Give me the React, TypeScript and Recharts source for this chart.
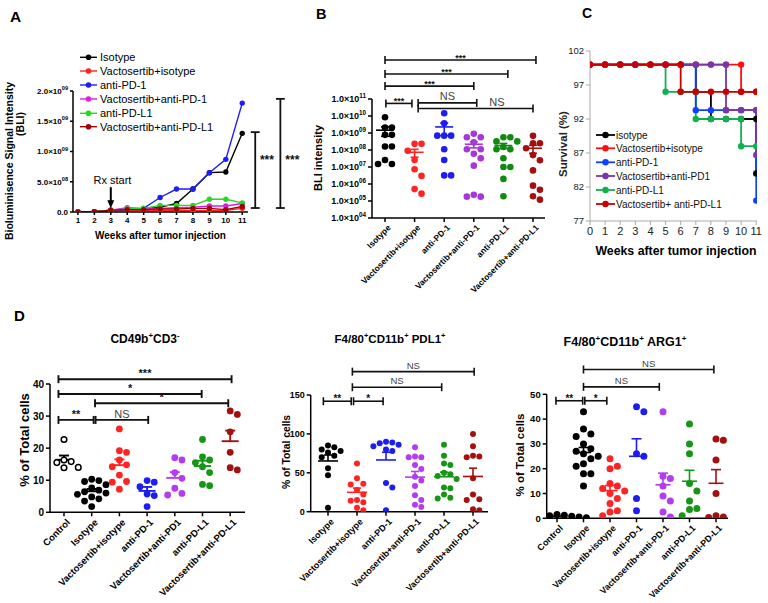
import React from 'react';
import {
  LineChart, Line, ScatterChart, Scatter, XAxis, YAxis, ReferenceLine, ReferenceDot,
} from 'recharts';

const FONT = "Arial, 'Liberation Sans', Helvetica, sans-serif";

// ---------- A: bioluminescence over time ----------
const weeks = [1, 2, 3, 4, 5, 6, 7, 8, 9, 10, 11];
const bliIsotype = [0, 0.005e9, 0.03e9, 0.05e9, 0.05e9, 0.08e9, 0.14e9, 0.38e9, 0.65e9, 0.66e9, 1.3e9];
const bliVactIso = [0, 0.005e9, 0.02e9, 0.03e9, 0.03e9, 0.02e9, 0.02e9, 0.02e9, 0.02e9, 0.03e9, 0.06e9];
const bliPd1 = [0, 0.005e9, 0.02e9, 0.04e9, 0.06e9, 0.24e9, 0.38e9, 0.38e9, 0.65e9, 0.87e9, 1.8e9];
const bliVactPd1 = [0, 0.005e9, 0.03e9, 0.07e9, 0.06e9, 0.06e9, 0.07e9, 0.08e9, 0.1e9, 0.1e9, 0.14e9];
const bliPdl1 = [0, 0.005e9, 0.03e9, 0.05e9, 0.06e9, 0.11e9, 0.11e9, 0.11e9, 0.21e9, 0.21e9, 0.15e9];
const bliVactPdl1 = [0, 0.005e9, 0.03e9, 0.04e9, 0.04e9, 0.05e9, 0.05e9, 0.06e9, 0.06e9, 0.04e9, 0.09e9];
const aNames = ['Isotype', 'Vactosertib+isotype', 'anti-PD-1', 'Vactosertib+anti-PD-1', 'anti-PD-L1', 'Vactosertib+anti-PD-L1'];
const aColors = ['#000000', '#ff2020', '#1c1cff', '#e01ee0', '#1fdc1f', '#a00000'];
const aTicks = [0, 0.5e9, 1e9, 1.5e9, 2e9];

// ---------- B: BLI intensity per group ----------
const bCats = ['Isotype', 'Vactosertib+isotype', 'anti-PD-1', 'Vactosertib+anti-PD-1', 'anti-PD-L1', 'Vactosertib+anti-PD-L1'];
const bIsotype = [8.5e9, 2.1e9, 2.1e9, 7.8e8, 7.8e8, 1.6e8, 1.6e8, 2.6e7, 1.5e7, 1.5e7];
const bVactIso = [2.3e8, 2.3e8, 9e7, 2.6e7, 7.4e6, 3e6, 5e5, 2.7e5];
const bPd1 = [1.45e10, 3.7e9, 7e8, 7e8, 7e8, 1.1e8, 2.6e7, 3.2e6, 3.2e6];
const bVactPd1 = [9e8, 5.6e8, 5.6e8, 2.8e8, 1.1e8, 1.1e8, 6e7, 3.3e7, 1.2e7, 2.3e5, 1.8e5, 1.8e5];
const bPdl1 = [5.6e8, 5.6e8, 3.2e8, 3.2e8, 1.5e8, 1.1e8, 1.1e8, 3.3e7, 1e7, 1e7, 2e6, 1.9e5];
const bVactPdl1 = [6.8e8, 2.5e8, 2.5e8, 1.26e8, 5e7, 2.5e7, 6.3e6, 8e5, 4.6e5, 1.9e5, 1.2e5];
const bTicks = [1e4, 1e5, 1e6, 1e7, 1e8, 1e9, 1e10, 1e11];
const bSigs = [
  { from: 0, to: 5.1, y: 1.95e13, label: '***' },
  { from: 0, to: 4.15, y: 2.95e12, label: '***' },
  { from: 0, to: 3.0, y: 5.75e11, label: '***' },
  { from: 0.03, to: 0.91, y: 5.5e10, label: '***' },
  { from: 1.12, to: 3.1, y: 5.9e10, label: 'NS' },
  { from: 1.12, to: 5.0, y: 2.75e10, label: 'NS', labelX: 3.78 },
];

// ---------- C: survival ----------
const survIsotype: [number, number][] = [[0, 100], [1, 100], [2, 100], [3, 100], [4, 100], [5, 100], [6, 100], [7, 96], [8, 92], [9, 92], [10, 92], [11, 92], [11, 84]];
const survVactIso: [number, number][] = [[0, 100], [1, 100], [2, 100], [3, 100], [4, 100], [5, 100], [6, 100], [7, 100], [8, 100], [9, 100], [10, 100], [10, 96], [11, 96]];
const survPd1: [number, number][] = [[0, 100], [1, 100], [2, 100], [3, 100], [4, 100], [5, 100], [6, 100], [7, 100], [7, 93.3], [8, 93.3], [9, 93.3], [10, 93.3], [11, 93.3], [11, 80]];
const survVactPd1: [number, number][] = [[0, 100], [1, 100], [2, 100], [3, 100], [4, 100], [5, 100], [6, 100], [7, 100], [8, 100], [9, 100], [9, 93.3], [10, 93.3], [11, 93.3], [11, 86.7]];
const survPdl1: [number, number][] = [[0, 100], [1, 100], [2, 100], [3, 100], [4, 100], [5, 96], [6, 96], [7, 96], [7, 92], [8, 92], [9, 92], [10, 92], [10, 88], [11, 88]];
const survVactPdl1: [number, number][] = [[0, 100], [1, 100], [2, 100], [3, 100], [4, 100], [5, 100], [6, 100], [6, 96], [7, 96], [8, 96], [9, 96], [10, 96], [11, 96]];
const cNames = ['isotype', 'Vactosertib+isotype', 'anti-PD-1', 'Vactosertib+anti-PD1', 'anti-PD-L1', 'Vactosertib+ anti-PD-L1'];
const cColors = ['#000000', '#ff1010', '#1040ff', '#7a35a8', '#12b050', '#c80000'];
const cSeries = [survIsotype, survVactIso, survPd1, survVactPd1, survPdl1, survVactPdl1];
const cDrawOrder = [0, 4, 2, 1, 3, 5];
const cWeeks = [0, 1, 2, 3, 4, 5, 6, 7, 8, 9, 10, 11];
const cTicks = [77, 82, 87, 92, 97, 102];

// ---------- D: flow cytometry ----------
const cdCats = ['Control', 'Isotype', 'Vactosertib+isotype', 'anti-PD-1', 'Vactosertib+anti-PD1', 'anti-PD-L1', 'Vactosertib+anti-PD-L1'];
const cdControl = [22.7, 16.3, 15.5, 14.0, 13.9, 15.8];
const cdIsotype = [10.3, 9.9, 9.6, 8.6, 7.6, 6.9, 6.4, 6.0, 5.6, 4.8, 4.2, 3.5, 1.8];
const cdVactIso = [26, 19.2, 18.7, 16.3, 14.8, 14.2, 11.6, 9.6, 9.4, 7.2];
const cdPd1 = [9.9, 9.4, 8.0, 5.7, 5.2, 1.8];
const cdVactPd1 = [17, 16.3, 12.4, 10.6, 7.5, 5.9, 5.4];
const cdPdl1 = [22.7, 17.3, 16.3, 15.5, 14.2, 12.4, 8.7, 8.3];
const cdVactPdl1 = [31.6, 30.5, 25.1, 18.7, 13.2, 13.9];
const cdSigs = [
  { from: -0.2, to: 6.05, y: 41.5, label: '***' },
  { from: -0.2, to: 4.97, y: 36.9, label: '*' },
  { from: 1.12, to: 5.93, y: 34.0, label: '*' },
  { from: -0.2, to: 1.07, y: 28.8, label: '**' },
  { from: 1.14, to: 3.04, y: 28.8, label: 'NS' },
];

const pdCats = ['Isotype', 'Vactosertib+isotype', 'anti-PD-1', 'Vactosertib+anti-PD-1', 'anti-PD-L1', 'Vactosertib+anti-PD-L1'];
const pdIsotype = [85, 83, 80, 78, 76, 72, 70, 56, 47, 5];
const pdVactIso = [62, 43, 36, 35, 28, 22, 15, 14, 12, 5, 2];
const pdPd1 = [90, 89, 88, 86, 84, 80, 78, 37, 31, 2];
const pdVactPd1 = [83, 71, 70, 70, 60, 55, 45, 40, 33, 21, 15, 9, 6];
const pdPdl1 = [86, 72, 62, 60, 50, 48, 46, 42, 31, 30, 22, 17, 18];
const pdVactPdl1 = [100, 84, 72, 71, 70, 43, 22, 16, 15, 2, 3];
const pdSigs = [
  { from: 0.84, to: 5.04, y: 180, label: 'NS' },
  { from: 0.84, to: 3.92, y: 160, label: 'NS' },
  { from: -0.16, to: 0.8, y: 142, label: '**' },
  { from: 0.88, to: 1.9, y: 142, label: '*' },
];

const argCats = ['Control', 'Isotype', 'Vactosertib+isotype', 'anti-PD-1', 'Vactosertib+anti-PD-1', 'anti-PD-L1', 'Vactosertib+anti-PD-L1'];
const argControl = [0.2, 0.5, 1.0, 1.5, 0.3, 0.8, 0, 0.6, 1.2];
const argIsotype = [43, 36, 34, 33, 30, 28, 27, 26, 25, 24, 22, 21, 18, 18, 13];
const argVactIso = [24, 21, 20, 14, 13, 12, 11, 10, 8, 6, 3, 2.5, 1];
const argPd1 = [45, 43, 26, 25, 8, 3];
const argVactPd1 = [43, 17, 16, 13, 9, 7, 2.5, 0.5];
const argPdl1 = [38, 30, 26, 14, 11, 7, 4, 3.5, 1];
const argVactPdl1 = [32, 31.5, 23.5, 10, 1, 0.5, 0.3];
const argSigs = [
  { from: 1.0, to: 5.92, y: 60, label: 'NS' },
  { from: 1.0, to: 3.86, y: 53, label: 'NS' },
  { from: -0.04, to: 0.97, y: 47.4, label: '**' },
  { from: 1.05, to: 1.88, y: 47.4, label: '*' },
];

const K = '#000000';
const R = '#ff2424';
const BL = '#1d1df0';
const PU = '#b43cf0';
const GR = '#169616';
const DR = '#a31010';

interface Sig { from: number; to: number; y: number; label: string; labelX?: number }

function sciParts(v: number): [string, string] | null {
  if (v === 0) return null;
  const e = Math.floor(Math.log10(v) + 1e-9);
  const m = v / Math.pow(10, e);
  return [`${m.toFixed(1)}×10`, String(e).padStart(2, '0')];
}

const makeSciTick = (fs: number) => (props: any) => {
  const { x, y, payload } = props;
  const p = sciParts(payload.value);
  return (
    <text x={x} y={y} dy={fs * 0.35} textAnchor="end" fontSize={fs} fontWeight="bold" fontFamily={FONT} fill="#000">
      {p ? (
        <>
          <tspan>{p[0]}</tspan>
          <tspan dy={-fs * 0.45} fontSize={fs * 0.7}>{p[1]}</tspan>
        </>
      ) : '0.0'}
    </text>
  );
};

const makeCatTick = (labels: string[], fs: number) => (props: any) => {
  const { x, y, payload } = props;
  const tx = x + 3;
  const ty = y + 1;
  return (
    <text x={tx} y={ty} dy={fs * 0.55} textAnchor="end" transform={`rotate(-45 ${tx} ${ty})`}
      fontSize={fs} fontWeight="bold" fontFamily={FONT} fill="#000">
      {labels[payload.value]}
    </text>
  );
};

const mean = (a: number[]) => a.reduce((s, v) => s + v, 0) / a.length;
const sem = (a: number[]) => {
  const m = mean(a);
  return Math.sqrt(a.reduce((s, v) => s + (v - m) * (v - m), 0) / (a.length - 1) / a.length);
};

// simple beeswarm: spreads dots sideways when they would overlap
function swarm(vals: number[], thresh: number, step: number): number[] {
  const idx = vals.map((_, i) => i).sort((a, b) => vals[b] - vals[a]);
  const placed: { y: number; o: number }[] = [];
  const out = vals.map(() => 0);
  idx.forEach((i) => {
    const y = vals[i];
    for (let k = 0; k < 30; k++) {
      const o = (k % 2 === 1 ? 1 : -1) * Math.ceil(k / 2) * step;
      const clash = placed.some((p) => Math.abs(p.y - y) < thresh && Math.abs(p.o - o) < step * 0.999);
      if (!clash) {
        out[i] = o;
        placed.push({ y, o });
        break;
      }
    }
  });
  return out;
}

interface DotPanelProps {
  box: { left: number; top: number; width: number; height: number };
  plot: { left: number; right: number; top: number; bottom: number; first: number; step: number };
  cats: string[];
  groups: number[][];
  colors: string[];
  hollowFirst?: boolean;
  yDomain: [number, number];
  yTicks: number[];
  log?: boolean;
  yTickFs: number;
  catFs: number;
  r: number;
  meanHalf: number;
  capHalf: number;
  bothErr?: boolean;
  sigs: Sig[];
  starFs: number;
  nsFs: number;
  starDy: number;
  nsDy: number;
  lw: number;
}

function DotPanel(p: DotPanelProps) {
  const { box, plot } = p;
  const xDomain: [number, number] = [(plot.left - plot.first) / plot.step, (plot.right - plot.first) / plot.step];
  const tr = (v: number) => (p.log ? Math.log10(v) : v);
  const inv = (t: number) => (p.log ? Math.pow(10, t) : t);
  const upp = (tr(p.yDomain[1]) - tr(p.yDomain[0])) / (plot.bottom - plot.top);
  const yShift = (v: number, px: number) => inv(tr(v) + px * upp);
  const dx = (px: number) => px / plot.step;
  const step = dx(p.r * 2.1);
  const thresh = p.r * 2.2 * upp;

  const els: React.ReactNode[] = [];
  p.groups.forEach((g, i) => {
    const m = mean(g);
    const s = sem(g);
    const c = p.colors[i];
    els.push(<ReferenceLine key={`m${i}`} ifOverflow="visible" stroke={c} strokeWidth={p.lw}
      segment={[{ x: i - dx(p.meanHalf), y: m }, { x: i + dx(p.meanHalf), y: m }]} />);
    els.push(<ReferenceLine key={`e${i}`} ifOverflow="visible" stroke={c} strokeWidth={p.lw}
      segment={[{ x: i, y: m }, { x: i, y: m + s }]} />);
    els.push(<ReferenceLine key={`c${i}`} ifOverflow="visible" stroke={c} strokeWidth={p.lw}
      segment={[{ x: i - dx(p.capHalf), y: m + s }, { x: i + dx(p.capHalf), y: m + s }]} />);
    if (p.bothErr && m - s > 0) {
      els.push(<ReferenceLine key={`el${i}`} ifOverflow="visible" stroke={c} strokeWidth={p.lw}
        segment={[{ x: i, y: m }, { x: i, y: m - s }]} />);
      els.push(<ReferenceLine key={`cl${i}`} ifOverflow="visible" stroke={c} strokeWidth={p.lw}
        segment={[{ x: i - dx(p.capHalf), y: m - s }, { x: i + dx(p.capHalf), y: m - s }]} />);
    }
  });
  p.sigs.forEach((sg, j) => {
    els.push(<ReferenceLine key={`b${j}`} ifOverflow="visible" stroke="#111" strokeWidth={p.lw}
      segment={[{ x: sg.from, y: sg.y }, { x: sg.to, y: sg.y }]} />);
    [sg.from, sg.to].forEach((x, k) => {
      els.push(<ReferenceLine key={`bt${j}-${k}`} ifOverflow="visible" stroke="#111" strokeWidth={p.lw}
        segment={[{ x, y: yShift(sg.y, -4) }, { x, y: yShift(sg.y, 4) }]} />);
    });
    const isNs = sg.label === 'NS';
    els.push(
      <ReferenceDot key={`bl${j}`} ifOverflow="visible" x={sg.labelX ?? (sg.from + sg.to) / 2} y={sg.y} r={0}
        shape={(sp: any) => (
          <text x={sp.cx} y={sp.cy - (isNs ? p.nsDy : p.starDy)} textAnchor="middle"
            fontSize={isNs ? p.nsFs : p.starFs} fontWeight={isNs ? 'normal' : 'bold'}
            fill={isNs ? '#444' : '#111'} fontFamily={FONT}>{sg.label}</text>
        )} />,
    );
  });

  return (
    <div style={{ position: 'absolute', left: box.left, top: box.top, width: box.width, height: box.height }}>
      <ScatterChart width={box.width} height={box.height}
        margin={{ top: plot.top - box.top, right: box.left + box.width - plot.right, bottom: 0, left: 0 }}>
        <XAxis type="number" dataKey="x" domain={xDomain} allowDataOverflow ticks={p.cats.map((_, i) => i)}
          interval={0} tick={makeCatTick(p.cats, p.catFs)} height={box.top + box.height - plot.bottom}
          stroke="#000" strokeWidth={1.5} tickSize={4} tickLine={{ stroke: '#000' }} />
        <YAxis type="number" dataKey="y" domain={p.yDomain} scale={p.log ? 'log' : 'auto'} allowDataOverflow
          ticks={p.yTicks} interval={0} width={plot.left - box.left}
          tick={p.log ? makeSciTick(p.yTickFs) : { fontSize: p.yTickFs, fontWeight: 'bold', fill: '#000', fontFamily: FONT }}
          stroke="#000" strokeWidth={1.5} tickSize={4} tickLine={{ stroke: '#000' }} />
        {p.groups.map((g, i) => {
          const offs = swarm(g.map(tr), thresh, step);
          const data = g.map((v, k) => ({ x: i + offs[k], y: v }));
          const hollow = p.hollowFirst && i === 0;
          return (
            <Scatter key={i} data={data} isAnimationActive={false}
              shape={(sp: any) => (
                <circle cx={sp.cx} cy={sp.cy} r={hollow ? p.r - 0.6 : p.r}
                  fill={hollow ? '#fff' : p.colors[i]} stroke={p.colors[i]} strokeWidth={hollow ? 1.5 : 0} />
              )} />
          );
        })}
        {els}
      </ScatterChart>
    </div>
  );
}

function PanelA() {
  const rows = weeks.map((w, i) => ({
    week: w, s0: bliIsotype[i], s1: bliVactIso[i], s2: bliPd1[i], s3: bliVactPd1[i], s4: bliPdl1[i], s5: bliVactPdl1[i],
  }));
  const sideSigs = [
    { x: 11.79, lo: 0.066e9, hi: 1.32e9, lx: 12.5 },
    { x: 13.32, lo: 0.066e9, hi: 1.87e9, lx: 14.05 },
  ];
  return (
    <div style={{ position: 'absolute', left: 0, top: 0, width: 310, height: 260 }}>
      <LineChart width={310} height={260} data={rows} margin={{ top: 91, right: 62, bottom: 0, left: 0 }}>
        <XAxis type="number" dataKey="week" domain={[0.7, 11.35]} allowDataOverflow ticks={weeks} interval={0}
          height={48} stroke="#000" strokeWidth={1.5} tickSize={3} tickLine={{ stroke: '#000' }}
          tick={{ fontSize: 8, fontWeight: 'bold', fill: '#000', fontFamily: FONT }} />
        <YAxis type="number" domain={[0, 2e9]} ticks={aTicks} interval={0} width={73} allowDataOverflow
          stroke="#000" strokeWidth={1.5} tickSize={3} tickLine={{ stroke: '#000' }} tick={makeSciTick(8)} />
        {aNames.map((n, i) => (
          <Line key={n} dataKey={`s${i}`} name={n} type="linear" stroke={aColors[i]} strokeWidth={1.4}
            dot={{ r: 2.7, fill: aColors[i], stroke: aColors[i], strokeWidth: 0 }} isAnimationActive={false} />
        ))}
        <ReferenceLine ifOverflow="visible" stroke="#000" strokeWidth={2}
          segment={[{ x: 3, y: 0.41e9 }, { x: 3, y: 0.13e9 }]} />
        <ReferenceDot ifOverflow="visible" x={3} y={0.06e9} r={0}
          shape={(sp: any) => <polygon points={`${sp.cx - 3.5},${sp.cy - 8} ${sp.cx + 3.5},${sp.cy - 8} ${sp.cx},${sp.cy}`} fill="#000" />} />
        <ReferenceDot ifOverflow="visible" x={3.1} y={0.46e9} r={0}
          shape={(sp: any) => <text x={sp.cx} y={sp.cy} textAnchor="middle" fontSize={11} fontFamily={FONT} fill="#000">Rx start</text>} />
        {sideSigs.map((s, i) => (
          <React.Fragment key={i}>
            <ReferenceLine ifOverflow="visible" stroke="#111" strokeWidth={1.8} segment={[{ x: s.x, y: s.lo }, { x: s.x, y: s.hi }]} />
            <ReferenceLine ifOverflow="visible" stroke="#111" strokeWidth={1.8} segment={[{ x: s.x - 0.27, y: s.lo }, { x: s.x + 0.27, y: s.lo }]} />
            <ReferenceLine ifOverflow="visible" stroke="#111" strokeWidth={1.8} segment={[{ x: s.x - 0.27, y: s.hi }, { x: s.x + 0.27, y: s.hi }]} />
            <ReferenceDot ifOverflow="visible" x={s.lx} y={0.8e9} r={0}
              shape={(sp: any) => <text x={sp.cx} y={sp.cy} textAnchor="middle" fontSize={12} fontWeight="bold" fontFamily={FONT} fill="#111">***</text>} />
          </React.Fragment>
        ))}
      </LineChart>
    </div>
  );
}

function PanelC() {
  return (
    <div style={{ position: 'absolute', left: 520, top: 0, width: 248, height: 265 }}>
      <LineChart width={248} height={265} margin={{ top: 51, right: 11, bottom: 0, left: 0 }}>
        <XAxis type="number" dataKey="w" domain={[0, 11.05]} allowDataOverflow ticks={cWeeks} interval={0}
          height={44} stroke="#aaa" tickSize={4} tickLine={{ stroke: '#aaa' }}
          tick={{ fontSize: 11, fill: '#222', fontFamily: FONT }} />
        <YAxis type="number" domain={[77, 102]} ticks={cTicks} interval={0} width={70} allowDataOverflow
          stroke="#aaa" tickSize={4} tickLine={{ stroke: '#aaa' }}
          tick={{ fontSize: 9.5, fill: '#222', fontFamily: FONT }} />
        {cDrawOrder.map((i) => (
          <Line key={cNames[i]} data={cSeries[i].map(([w, s]) => ({ w, s }))} dataKey="s" name={cNames[i]}
            type="stepAfter" stroke={cColors[i]} strokeWidth={1.8}
            dot={{ r: 3.2, fill: cColors[i], stroke: cColors[i], strokeWidth: 0 }} isAnimationActive={false} />
        ))}
      </LineChart>
    </div>
  );
}

function Overlay() {
  const aLegY = [57.3, 71, 85, 99, 113.3, 126.7];
  const cLegY = [135, 148.3, 162.3, 176, 190, 204];
  const sup = (s: string, fs: number) => <tspan dy={-fs * 0.4} fontSize={fs * 0.65}>{s}</tspan>;
  const base = (s: string, fs: number) => <tspan dy={fs * 0.4}>{s}</tspan>;
  return (
    <svg width={768} height={603} style={{ position: 'absolute', left: 0, top: 0, pointerEvents: 'none' }} fontFamily={FONT}>
      <text x={10} y={21.7} fontSize={15.5} fontWeight="bold">A</text>
      <text x={316} y={18.5} fontSize={14.5} fontWeight="bold">B</text>
      <text x={582} y={17.5} fontSize={14} fontWeight="bold">C</text>
      <text x={14} y={320.7} fontSize={15} fontWeight="bold">D</text>

      {/* A labels and legend */}
      <text transform="translate(9.5,161) rotate(-90)" textAnchor="middle" dy="0.35em" fontSize={10.5} fontWeight="bold">Bioluminisence Signal Intensity</text>
      <text transform="translate(20.5,124) rotate(-90)" textAnchor="middle" dy="0.35em" fontSize={10.5} fontWeight="bold">(BLI)</text>
      <text x={160.5} y={235} dy="0.35em" textAnchor="middle" fontSize={10} fontWeight="bold">Weeks after tumor injection</text>
      {aNames.map((n, i) => (
        <g key={n}>
          <line x1={80} x2={97} y1={aLegY[i]} y2={aLegY[i]} stroke={aColors[i]} strokeWidth={1.4} />
          <circle cx={88.5} cy={aLegY[i]} r={2.8} fill={aColors[i]} />
          <text x={100} y={aLegY[i]} dy="0.35em" fontSize={11} fill="#000">{n}</text>
        </g>
      ))}

      {/* B label */}
      <text transform="translate(318,158) rotate(-90)" textAnchor="middle" dy="0.35em" fontSize={11} fontWeight="bold">BLI intensity</text>

      {/* C labels and legend */}
      <text transform="translate(563,144) rotate(-90)" textAnchor="middle" dy="0.35em" fontSize={11.5} fontWeight="bold" fill="#222">Survival (%)</text>
      <text x={676} y={251} dy="0.35em" textAnchor="middle" fontSize={12.3} fontWeight="bold">Weeks after tumor injection</text>
      {cNames.map((n, i) => (
        <g key={n}>
          <line x1={596} x2={615} y1={cLegY[i]} y2={cLegY[i]} stroke={cColors[i]} strokeWidth={1.8} />
          <circle cx={605.5} cy={cLegY[i]} r={3.2} fill={cColors[i]} />
          <text x={616} y={cLegY[i]} dy="0.35em" fontSize={10} fill="#111">{n}</text>
        </g>
      ))}

      {/* D titles and axis labels */}
      <text x={145} y={339} dy="0.35em" textAnchor="middle" fontSize={12} fontWeight="bold">
        <tspan>CD49b</tspan>{sup('+', 12)}{base('CD3', 12)}{sup('-', 12)}
      </text>
      <text x={390} y={339} dy="0.35em" textAnchor="middle" fontSize={11.5} fontWeight="bold">
        <tspan>F4/80</tspan>{sup('+', 11.5)}{base('CD11b', 11.5)}{sup('+', 11.5)}{base(' PDL1', 11.5)}{sup('+', 11.5)}
      </text>
      <text x={625} y={342} dy="0.35em" textAnchor="middle" fontSize={12.5} fontWeight="bold">
        <tspan>F4/80</tspan>{sup('+', 12.5)}{base('CD11b', 12.5)}{sup('+', 12.5)}{base(' ARG1', 12.5)}{sup('+', 12.5)}
      </text>
      <text transform="translate(24,440) rotate(-90)" textAnchor="middle" dy="0.35em" fontSize={13} fontWeight="bold">% of Total cells</text>
      <text transform="translate(286,452) rotate(-90)" textAnchor="middle" dy="0.35em" fontSize={10.3} fontWeight="bold">% of Total cells</text>
      <text transform="translate(520,455) rotate(-90)" textAnchor="middle" dy="0.35em" fontSize={11.5} fontWeight="bold">% of Total cells</text>
    </svg>
  );
}

export default function App() {
  return (
    <div style={{ position: 'absolute', left: 0, top: 0, width: 768, height: 603, background: '#fff', fontFamily: FONT, overflow: 'hidden' }}>
      <PanelA />
      <DotPanel
        box={{ left: 250, top: 0, width: 310, height: 300 }}
        plot={{ left: 372, right: 545, top: 99, bottom: 218, first: 385, step: 29.6 }}
        cats={bCats}
        groups={[bIsotype, bVactIso, bPd1, bVactPd1, bPdl1, bVactPdl1]}
        colors={[K, R, BL, '#a637d8', '#0f8a0f', DR]}
        yDomain={[1e4, 1e11]} yTicks={bTicks} log
        yTickFs={9} catFs={8.4} r={3.3} meanHalf={9} capHalf={4} bothErr
        sigs={bSigs} starFs={9} nsFs={11} starDy={-1} nsDy={2.5} lw={1.6}
      />
      <PanelC />
      <DotPanel
        box={{ left: 0, top: 300, width: 260, height: 303 }}
        plot={{ left: 50, right: 245, top: 384, bottom: 512.3, first: 64, step: 27.7 }}
        cats={cdCats}
        groups={[cdControl, cdIsotype, cdVactIso, cdPd1, cdVactPd1, cdPdl1, cdVactPdl1]}
        colors={[K, K, R, BL, PU, GR, DR]} hollowFirst
        yDomain={[0, 40]} yTicks={[0, 10, 20, 30, 40]}
        yTickFs={10} catFs={9.5} r={3.4} meanHalf={8.5} capHalf={5}
        sigs={cdSigs} starFs={11} nsFs={11} starDy={2} nsDy={1.5} lw={1.9}
      />
      <DotPanel
        box={{ left: 260, top: 300, width: 250, height: 303 }}
        plot={{ left: 310.7, right: 488, top: 395, bottom: 511.7, first: 328, step: 29 }}
        cats={pdCats}
        groups={[pdIsotype, pdVactIso, pdPd1, pdVactPd1, pdPdl1, pdVactPdl1]}
        colors={[K, R, BL, PU, GR, DR]}
        yDomain={[0, 150]} yTicks={[0, 50, 100, 150]}
        yTickFs={9} catFs={9} r={3.0} meanHalf={10} capHalf={4}
        sigs={pdSigs} starFs={10} nsFs={9.5} starDy={-1} nsDy={3} lw={1.6}
      />
      <DotPanel
        box={{ left: 510, top: 300, width: 258, height: 303 }}
        plot={{ left: 546.7, right: 728, top: 394.3, bottom: 518.3, first: 557, step: 26.5 }}
        cats={argCats}
        groups={[argControl, argIsotype, argVactIso, argPd1, argVactPd1, argPdl1, argVactPdl1]}
        colors={[K, K, R, BL, PU, GR, DR]}
        yDomain={[0, 50]} yTicks={[0, 10, 20, 30, 40, 50]}
        yTickFs={9.5} catFs={9} r={3.5} meanHalf={7.5} capHalf={5}
        sigs={argSigs} starFs={10} nsFs={9.5} starDy={-1} nsDy={3} lw={1.6}
      />
      <Overlay />
    </div>
  );
}
